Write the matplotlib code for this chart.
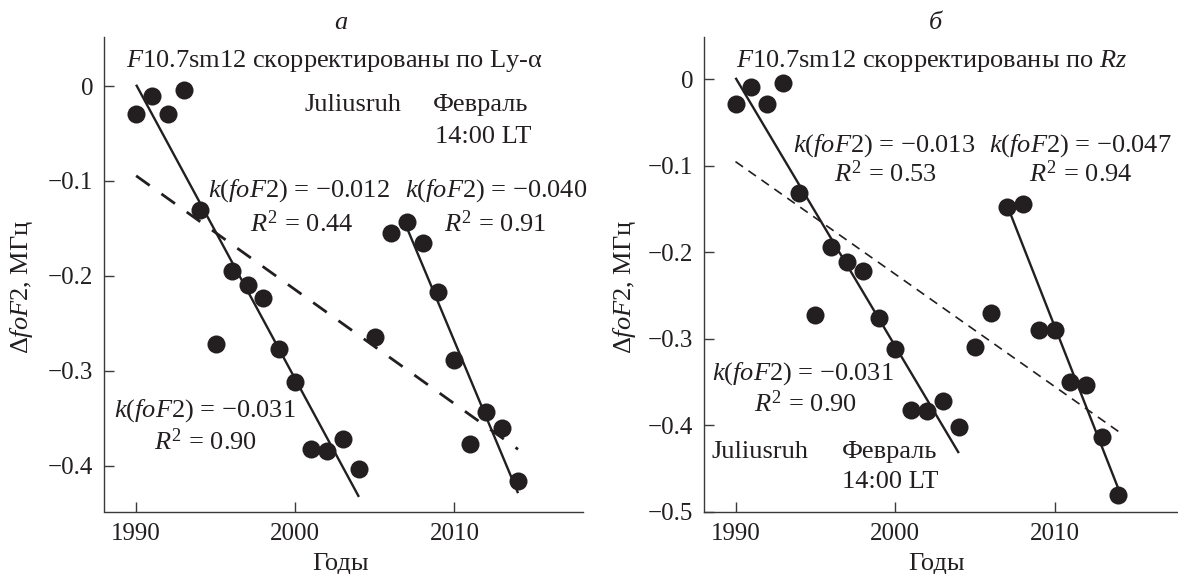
import numpy as np
import matplotlib
matplotlib.use("Agg")
import matplotlib.pyplot as plt

# ---- data -------------------------------------------------------------
years = np.arange(1990, 2015)

# deviations of foF2 (MHz), F10.7sm12 corrected via Ly-alpha
dfof2_lya = [-0.029, -0.0105, -0.029, -0.0045, -0.131, -0.272, -0.195, -0.210,
             -0.223, -0.277, -0.312, -0.3825, -0.384, -0.372, -0.403, -0.264,
             -0.155, -0.143, -0.165, -0.217, -0.288, -0.377, -0.3435, -0.360,
             -0.416]
# deviations of foF2 (MHz), F10.7sm12 corrected via Rz
dfof2_rz = [-0.0286, -0.0089, -0.0286, -0.0039, -0.131, -0.272, -0.194, -0.211,
            -0.222, -0.276, -0.312, -0.382, -0.384, -0.372, -0.402, -0.3095,
            -0.2705, -0.148, -0.144, -0.290, -0.290, -0.350, -0.354, -0.414,
            -0.481]

# trend intervals and their slopes k(foF2), with R^2
trend_spans = [(1990, 2004), (2007, 2014), (1990, 2014)]
k_lya = [-0.031, -0.040, -0.012]
r2_lya = [0.90, 0.91, 0.44]
k_rz = [-0.031, -0.047, -0.013]
r2_rz = [0.90, 0.94, 0.53]

xticks = [1990, 2000, 2010]
yticks_lya = [0, -0.1, -0.2, -0.3, -0.4]
yticks_rz = [0, -0.1, -0.2, -0.3, -0.4, -0.5]

# ---- style ------------------------------------------------------------
INK = "#231f20"
plt.rcParams.update({
    "font.family": ["Liberation Serif", "DejaVu Serif"],
    "mathtext.fontset": "custom",
    "mathtext.rm": "Liberation Serif",
    "mathtext.it": "Liberation Serif:italic",
    "mathtext.bf": "Liberation Serif:bold",
    "axes.unicode_minus": True,
})
FS = 19
TICK_FS = 18

W, H = 1178, 574
fig = plt.figure(figsize=(W / 100, H / 100), dpi=100)


def fx(px):
    return px / W


def fy(py):
    return 1 - py / H


def ftext(px, py, s, ha="center", **kw):
    fig.text(fx(px), fy(py), s, ha=ha, va="baseline", fontsize=FS,
             color=INK, **kw)


def trend(ax, values, span, k, **style):
    y = np.asarray(values)
    m = (years >= span[0]) & (years <= span[1])
    xm, ym = years[m].mean(), y[m].mean()
    xs = np.array(span, dtype=float)
    ax.plot(xs, ym + k * (xs - xm), color=INK, solid_capstyle="butt", **style)


def fmt(v):
    return "0" if v == 0 else f"{v:.1f}".replace("-", "\u2212")


def setup(ax, xlim, ylim, yticks):
    ax.set_xlim(*xlim)
    ax.set_ylim(*ylim)
    for s in ("top", "right"):
        ax.spines[s].set_visible(False)
    for s in ("left", "bottom"):
        ax.spines[s].set_color("#3a3a3a")
        ax.spines[s].set_linewidth(1.0)
    ax.set_xticks(xticks)
    ax.set_xticklabels([str(t) for t in xticks])
    ax.set_yticks(yticks)
    ax.set_yticklabels([fmt(t) for t in yticks])
    ax.tick_params(direction="in", length=7, width=1.0, color="#3a3a3a",
                   labelsize=TICK_FS, labelcolor=INK)
    ax.tick_params(axis="y", pad=8)
    ax.tick_params(axis="x", pad=8)
    ax.set_xlabel("Годы", fontsize=FS, color=INK)
    ax.set_ylabel(r"Δ$foF$2, МГц", fontsize=FS, color=INK)
    ax.patch.set_alpha(0)


def kstr(k):
    return r"$k$($foF$2) = " + f"{k:.3f}".replace("-", "\u2212")


def rstr(r):
    return r"$R^2$ = " + f"{r:.2f}"


# ---- panel a -----------------------------------------------------------
ax1 = fig.add_axes([fx(104.3), fy(511.5), (583.3 - 104.3) / W, (511.5 - 37) / H])
setup(ax1, (1988.0, 2018.1), (-0.448, 0.0516), yticks_lya)
ax1.xaxis.set_label_coords(0.4933, -0.0875)
ax1.yaxis.set_label_coords(-0.1447, 0.473)
trend(ax1, dfof2_lya, trend_spans[2], k_lya[2], lw=2.0, dashes=(6, 5.2))
trend(ax1, dfof2_lya, trend_spans[0], k_lya[0], lw=1.7)
trend(ax1, dfof2_lya, trend_spans[1], k_lya[1], lw=1.7)
ax1.plot(years, dfof2_lya, "o", ms=13, color=INK, mew=0, zorder=3)

ftext(340.6, 29.3, "а", style="italic")
ftext(126, 66.7, r"$F$10.7sm12 скорректированы по Ly-α", ha="left")
ftext(304.1, 111, "Juliusruh", ha="left")
ftext(432.8, 111, "Февраль", ha="left")
ftext(434.7, 142.7, "14:00 LT", ha="left")
ftext(299, 196.7, kstr(k_lya[2]))
ftext(301.7, 231.7, rstr(r2_lya[2]))
ftext(495.8, 196.7, kstr(k_lya[1]))
ftext(495, 231.7, rstr(r2_lya[1]))
ftext(205, 416.7, kstr(k_lya[0]))
ftext(205.8, 450, rstr(r2_lya[0]))

# ---- panel б -----------------------------------------------------------
ax2 = fig.add_axes([fx(704.4), fy(511.7), (1178 - 704.4) / W, (511.7 - 37.3) / H])
setup(ax2, (1988.05, 2017.74), (-0.5, 0.0486), yticks_rz)
ax2.xaxis.set_label_coords(0.4907, -0.087)
ax2.yaxis.set_label_coords(-0.140, 0.474)
trend(ax2, dfof2_rz, trend_spans[2], k_rz[2], lw=1.2, dashes=(5.5, 4))
trend(ax2, dfof2_rz, trend_spans[0], k_rz[0], lw=1.7)
trend(ax2, dfof2_rz, trend_spans[1], k_rz[1], lw=1.7)
ax2.plot(years, dfof2_rz, "o", ms=13, color=INK, mew=0, zorder=3)

ftext(935, 29.3, "б", style="italic")
ftext(735.5, 66.7, r"$F$10.7sm12 скорректированы по $Rz$", ha="left")
ftext(884.4, 151.7, kstr(k_rz[2]))
ftext(885.8, 181.7, rstr(r2_rz[2]))
ftext(1080, 151.7, kstr(k_rz[1]))
ftext(1080.8, 181.7, rstr(r2_rz[1]))
ftext(802.8, 380, kstr(k_rz[0]))
ftext(805, 411.7, rstr(r2_rz[0]))
ftext(711.7, 458.3, "Juliusruh", ha="left")
ftext(841.7, 458.3, "Февраль", ha="left")
ftext(841.7, 488.3, "14:00 LT", ha="left")

fig.savefig("out.png", dpi=100)
